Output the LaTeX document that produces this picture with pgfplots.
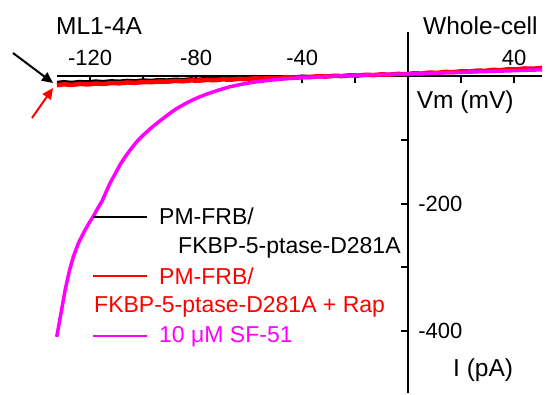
\documentclass[border=0pt]{standalone}
\usepackage{pgfplots}
\pgfplotsset{compat=1.18}
\usepackage{fontspec}
\setmainfont{Liberation Sans}
\usetikzlibrary{arrows.meta}
\definecolor{mag}{RGB}{255,0,255}
\definecolor{rd}{RGB}{255,0,0}

\pgfplotstableread{
V I
-132.5 -9.5
-130 -8.2
-127 -9.4
-124 -8.0
-121 -8.6
-118 -7.2
-115 -8.1
-112 -6.8
-109 -7.5
-106 -6.2
-103 -6.9
-100 -5.6
-97 -6.3
-94 -5.0
-91 -5.6
-88 -4.4
-85 -5.0
-82 -3.8
-79 -4.4
-76 -3.2
-73 -3.7
-70 -2.6
-67 -3.2
-64 -2.0
-61 -2.6
-58 -1.4
-55 -2.0
-52 -0.9
-49 -1.5
-46 -0.3
-43 -0.9
-40 0.2
-37 -0.4
-34 0.7
-31 0.2
-28 1.2
-25 0.6
-22 1.7
-19 1.2
-16 2.2
-13 1.7
-10 2.8
-7 2.3
-4 3.3
-1 2.9
2 4.0
5 3.6
8 4.9
11 4.6
14 5.9
17 5.5
20 6.8
23 6.4
26 7.8
29 7.4
32 8.7
35 8.3
38 9.7
41 9.3
44 10.6
47 10.2
50.5 11.5
}\blacktab

\pgfplotstableread{
V I
-132.5 -14.5
-130 -13.0
-127 -14.0
-124 -12.4
-121 -13.2
-118 -11.8
-115 -12.5
-112 -11.0
-109 -11.5
-106 -10.1
-103 -10.7
-100 -9.4
-97 -9.8
-94 -8.6
-91 -9.0
-88 -7.7
-85 -8.3
-82 -6.9
-79 -7.4
-76 -6.1
-73 -6.6
-70 -5.3
-67 -5.8
-64 -4.5
-61 -4.9
-58 -3.7
-55 -4.1
-52 -2.9
-49 -3.2
-46 -2.1
-43 -2.4
-40 -1.3
-37 -1.7
-34 -0.5
-31 -0.9
-28 0.3
-25 -0.1
-22 1.1
-19 0.7
-16 1.9
-13 1.4
-10 2.6
-7 2.1
-4 3.3
-1 2.8
2 4.2
5 3.8
8 5.3
11 4.9
14 6.4
17 6.0
20 7.4
23 7.0
26 8.5
29 8.1
32 9.6
35 9.2
38 10.7
41 10.3
44 11.8
47 11.4
50.5 12.8
}\redtab

\pgfplotstableread{
V I
-132.6 -409
-131 -372
-129.4 -335
-127.8 -305
-126.3 -283
-124.5 -263
-122.5 -246
-120.6 -232
-118.8 -220
-117.2 -208
-115.6 -197
-114 -182
-112.5 -168
-110.5 -153
-108.7 -139
-106.8 -127
-104.9 -116
-102.4 -103
-99.9 -92.5
-97.4 -83
-94.8 -74
-92.3 -66
-89.8 -58
-87.3 -51
-84.8 -45
-81.6 -38
-78.5 -32.4
-75.4 -27.5
-72.2 -23
-69.7 -19.8
-67.2 -16.8
-63 -13
-58 -9.5
-53 -7
-48 -5
-44 -3.8
-40 -2.8
-35 -1.6
-30 -0.6
-25 0.3
-20 1.0
-15 1.7
-10 2.3
-5 2.8
0 3.3
5 3.9
10 4.6
15 5.2
20 5.8
25 6.5
30 7.1
35 7.7
40 8.4
45 9.0
50.5 9.7
}\magtab

\begin{document}
\begin{tikzpicture}
\useasboundingbox (0,0) rectangle (550bp,395bp);
\begin{axis}[
  at={(57bp,2bp)}, anchor=south west,
  scale only axis, width=485bp, height=361bp,
  xmin=-132.5, xmax=50.5, ymin=-497, ymax=69,
  axis lines=middle,
  axis line style={line width=2.2bp, -},
  every tick/.style={line width=2bp, black},
  tick align=outside,
  major tick length=7bp,
  xtick={-120,-100,-80,-60,-40,-20,20,40},
  xticklabels={-120,,-80,,-40,,,40},
  ytick={-400,-300,-200,-100},
  yticklabels={-400,,-200,},
  xticklabel style={anchor=base, yshift=18bp, inner sep=0pt, font=\fontsize{22bp}{26bp}\selectfont},
  yticklabel style={anchor=west, xshift=17bp, inner sep=0pt, font=\fontsize{22bp}{26bp}\selectfont},
  /pgf/number format/assume math mode=true,
  clip=false,
]
\addplot[black, line width=2.5bp] table[x=V, y=I] {\blacktab};
\addplot[rd, line width=4.5bp] table[x=V, y=I] {\redtab};
\addplot[mag, line width=3.5bp] table[x=V, y=I] {\magtab};
\end{axis}

% titles and axis names
\node[anchor=base west, inner sep=0pt, font=\fontsize{24.5bp}{29bp}\selectfont] at (56bp,360bp) {ML1-4A};
\node[anchor=base west, inner sep=0pt, font=\fontsize{24.5bp}{29bp}\selectfont] at (423bp,360bp) {Whole-cell};
\node[anchor=base west, inner sep=0pt, font=\fontsize{24.5bp}{29bp}\selectfont] at (416.7bp,286.7bp) {Vm (mV)};
\node[anchor=base west, inner sep=0pt, font=\fontsize{24.5bp}{29bp}\selectfont] at (453bp,19bp) {I (pA)};

% arrows
\draw[black, line width=2bp, -{Triangle[length=11bp,width=10bp]}] (13bp,342bp) -- (53bp,312bp);
\draw[rd, line width=2bp, -{Triangle[length=11bp,width=10bp]}] (32bp,277bp) -- (53bp,307bp);

% legend
\draw[black, line width=2.5bp] (93bp,178bp) -- (147bp,178bp);
\draw[rd, line width=2.5bp] (93bp,119bp) -- (147bp,119bp);
\draw[mag, line width=2.5bp] (93bp,59bp) -- (147bp,59bp);
\begin{scope}[every node/.style={anchor=base west, inner sep=0pt, font=\fontsize{23bp}{28bp}\selectfont}]
\node[text=black] at (159bp,170bp) {PM-FRB/};
\node[text=black] at (178bp,141.7bp) {FKBP-5-ptase-D281A};
\node[text=rd] at (159bp,110bp) {PM-FRB/};
\node[text=rd] at (94bp,82bp) {FKBP-5-ptase-D281A + Rap};
\node[text=mag] at (159bp,52bp) {10 μM SF-51};
\end{scope}
\end{tikzpicture}
\end{document}
